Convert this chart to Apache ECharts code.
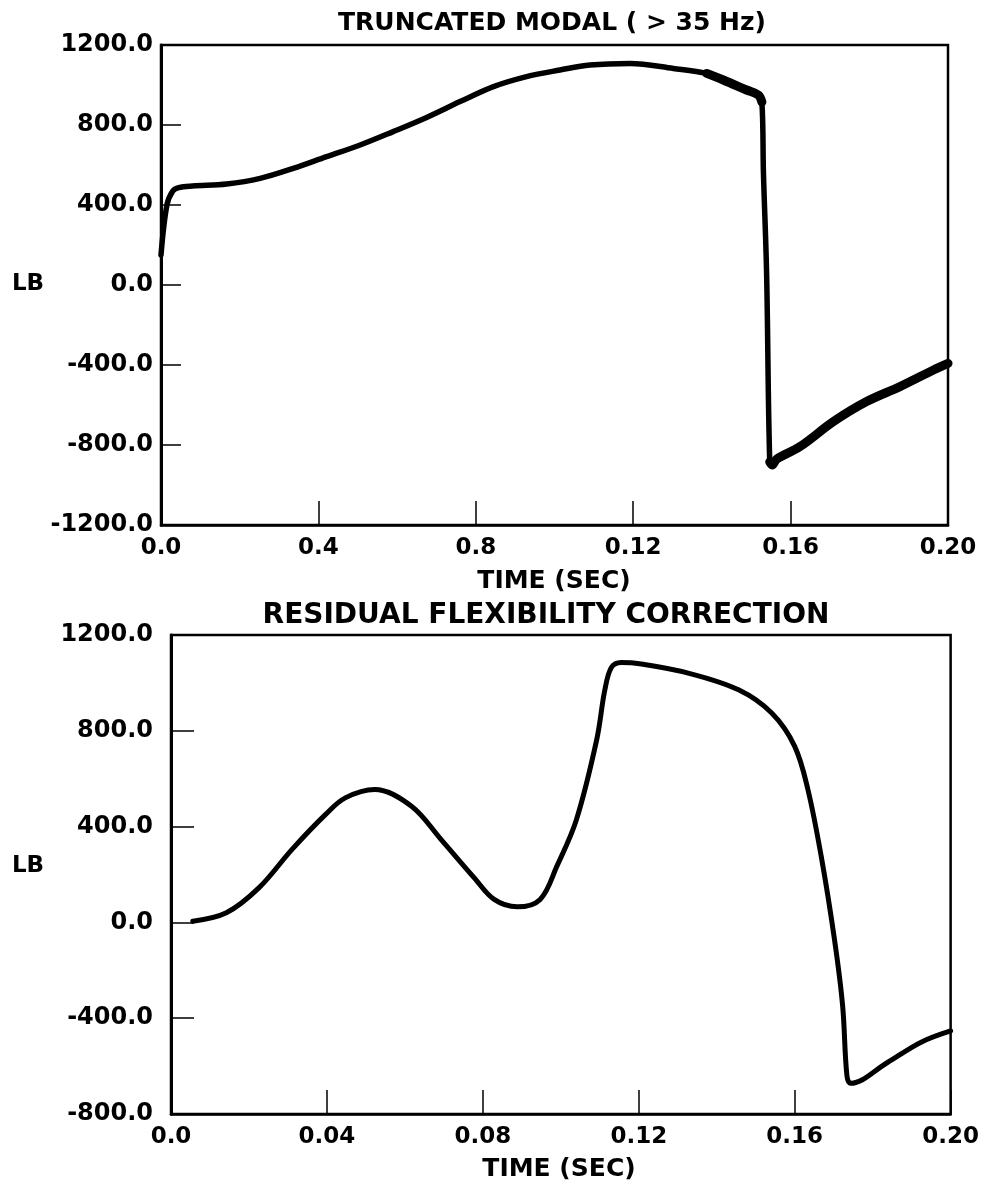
<!DOCTYPE html>
<html>
<head>
<meta charset="utf-8">
<script src="https://cdn.jsdelivr.net/npm/echarts@6/dist/echarts.min.js"></script>
<style>
html,body{margin:0;padding:0;background:#fff;}
#chart{width:982px;height:1186px;}
</style>
</head>
<body>
<div id="chart"></div>
<script>
// ---- Data ----
var topTitle = 'TRUNCATED MODAL ( > 35 Hz)';
var bottomTitle = 'RESIDUAL FLEXIBILITY CORRECTION';
var yName = 'LB';
var xName = 'TIME (SEC)';

var topXLabels = ['0.0', '0.4', '0.8', '0.12', '0.16', '0.20'];
var bottomXLabels = ['0.0', '0.04', '0.08', '0.12', '0.16', '0.20'];

var topTime = [0, 0.0015, 0.003, 0.0045, 0.008, 0.0167, 0.0252, 0.0336, 0.0421, 0.0506,
  0.059, 0.0675, 0.076, 0.0845, 0.0929, 0.1014, 0.109, 0.1192, 0.1302, 0.1387,
  0.1429, 0.1488, 0.1518, 0.1527, 0.1531, 0.1539, 0.1547, 0.1553, 0.1565, 0.1624,
  0.1709, 0.1793, 0.1878, 0.1963, 0.2];
var topLoad = [150, 400, 470, 487, 495, 505, 533, 583, 642, 700,
  767, 838, 917, 992, 1042, 1075, 1100, 1108, 1083, 1058,
  1025, 975, 950, 915, 560, 60, -885, -900, -870, -808,
  -683, -583, -508, -425, -392];
// time ranges where the top trace is noisy (drawn as a thicker band)
var topNoisyRanges = [[0.136, 0.1527], [0.1547, 0.2]];

var bottomTime = [0.0056, 0.0142, 0.0226, 0.031, 0.0396, 0.0447, 0.0523, 0.0617, 0.0693, 0.0778,
  0.0829, 0.0888, 0.0947, 0.099, 0.104, 0.1092, 0.1113, 0.113, 0.1155, 0.1202,
  0.1329, 0.1456, 0.1541, 0.16, 0.1634, 0.1668, 0.1702, 0.1723, 0.1734, 0.1744,
  0.1838, 0.1923, 0.2];
var bottomLoad = [5, 40, 145, 304, 450, 520, 555, 485, 346, 186,
  96, 65, 96, 235, 429, 762, 971, 1065, 1085, 1080,
  1040, 971, 874, 735, 554, 276, -71, -349, -640, -672,
  -585, -501, -453];

function pairs(xs, ys) {
  var out = [];
  for (var i = 0; i < xs.length; i++) out.push([xs[i], ys[i]]);
  return out;
}
function noisyPairs(xs, ys, ranges) {
  var out = [];
  for (var i = 0; i < xs.length; i++) {
    var inside = ranges.some(function (r) { return xs[i] >= r[0] && xs[i] <= r[1]; });
    out.push(inside ? [xs[i], ys[i]] : [xs[i], null]);
  }
  return out;
}

var FONT = 'DejaVu Sans';

function xAxisCfg(grid, labels) {
  return {
    type: 'value', gridIndex: grid, min: 0, max: 0.2, interval: 0.04,
    axisLine: { show: true, onZero: false, lineStyle: { color: '#000', width: 2.5 } },
    axisTick: { show: true, inside: true, length: 24, lineStyle: { color: '#000', width: 1.5 } },
    splitLine: { show: false },
    axisLabel: {
      margin: 12, fontSize: 23, fontFamily: FONT, fontWeight: 'bold', color: '#000',
      formatter: function (v) { return labels[Math.round(v / 0.04)]; }
    }
  };
}
function yAxisCfg(grid, min, max, tickLen, margin) {
  return {
    type: 'value', gridIndex: grid, min: min, max: max, interval: 400,
    axisLine: { show: true, onZero: false, lineStyle: { color: '#000', width: 3 } },
    axisTick: { show: true, inside: true, length: tickLen, lineStyle: { color: '#000', width: 1.5 } },
    splitLine: { show: false },
    axisLabel: {
      margin: margin, fontSize: 24, fontFamily: FONT, fontWeight: 'bold', color: '#000',
      formatter: function (v) { return v.toFixed(1); }
    }
  };
}

var chart = echarts.init(document.getElementById('chart'), null, { renderer: 'canvas' });
chart.setOption({
  backgroundColor: '#fff',
  animation: false,
  grid: [
    { left: 161, top: 45, width: 787, height: 480, show: true, borderColor: '#000', borderWidth: 2.5, backgroundColor: 'transparent' },
    { left: 171, top: 635, width: 786, height: 479, show: true, borderColor: '#000', borderWidth: 2.5, backgroundColor: 'transparent' }
  ],
  xAxis: [xAxisCfg(0, topXLabels), xAxisCfg(1, bottomXLabels)],
  yAxis: [yAxisCfg(0, -1200, 1200, 20, 8), yAxisCfg(1, -800, 1200, 23, 18)],
  series: [
    {
      type: 'line', xAxisIndex: 0, yAxisIndex: 0, data: pairs(topTime, topLoad),
      showSymbol: false, smooth: 0.35,
      lineStyle: { color: '#000', width: 5.5, join: 'round', cap: 'round' }
    },
    {
      type: 'line', xAxisIndex: 0, yAxisIndex: 0, data: noisyPairs(topTime, topLoad, topNoisyRanges),
      showSymbol: false, smooth: 0.35, connectNulls: false,
      lineStyle: { color: '#000', width: 9, join: 'round', cap: 'round' }
    },
    {
      type: 'line', xAxisIndex: 1, yAxisIndex: 1, data: pairs(bottomTime, bottomLoad),
      showSymbol: false, smooth: 0.35,
      lineStyle: { color: '#000', width: 5, join: 'round', cap: 'round' }
    }
  ],
  graphic: [
    { type: 'text', x: 552, y: 23, style: { text: topTitle, fontFamily: FONT, fontWeight: 'bold', fontSize: 25, fill: '#000', align: 'center', verticalAlign: 'middle' } },
    { type: 'text', x: 546, y: 616, style: { text: bottomTitle, fontFamily: FONT, fontWeight: 'bold', fontSize: 28, fill: '#000', align: 'center', verticalAlign: 'middle' } },
    { type: 'text', x: 28, y: 284, style: { text: yName, fontFamily: FONT, fontWeight: 'bold', fontSize: 23, fill: '#000', align: 'center', verticalAlign: 'middle' } },
    { type: 'text', x: 28, y: 866, style: { text: yName, fontFamily: FONT, fontWeight: 'bold', fontSize: 23, fill: '#000', align: 'center', verticalAlign: 'middle' } },
    { type: 'text', x: 554, y: 581, style: { text: xName, fontFamily: FONT, fontWeight: 'bold', fontSize: 25, fill: '#000', align: 'center', verticalAlign: 'middle' } },
    { type: 'text', x: 559, y: 1169, style: { text: xName, fontFamily: FONT, fontWeight: 'bold', fontSize: 25, fill: '#000', align: 'center', verticalAlign: 'middle' } }
  ]
});
</script>
</body>
</html>
